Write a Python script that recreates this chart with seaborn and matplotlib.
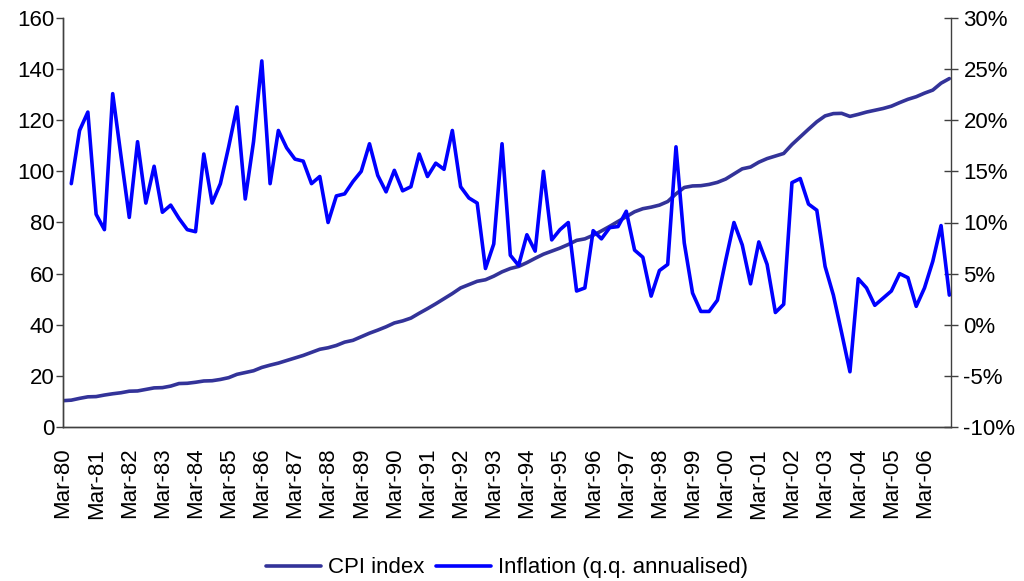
import pandas as pd
import matplotlib.pyplot as plt
import numpy as np
import seaborn as sns
from matplotlib.ticker import FuncFormatter

# Quarterly data, Mar-80 .. Dec-06
cpi_index = [10.3, 10.5, 11.2, 11.8, 11.9, 12.5, 13.0, 13.4, 14.0, 14.1,
             14.7, 15.3, 15.4, 16.0, 17.0, 17.1, 17.5, 18.0, 18.1, 18.6,
             19.3, 20.6, 21.3, 22.0, 23.3, 24.2, 25.0, 26.0, 27.0, 28.0,
             29.2, 30.4, 31.0, 31.9, 33.2, 33.9, 35.3, 36.7, 37.9, 39.2,
             40.7, 41.5, 42.6, 44.5, 46.3, 48.2, 50.2, 52.2, 54.4, 55.7,
             57.0, 57.6, 59.0, 60.7, 62.0, 62.8, 64.3, 66.0, 67.6, 68.8,
             70.0, 71.4, 73.0, 73.6, 75.0, 76.7, 78.5, 80.4, 82.3, 84.2,
             85.4, 86.0, 86.8, 88.2, 91.2, 93.7, 94.3, 94.4, 94.9, 95.7,
             97.0, 99.0, 101.0, 101.7, 103.6, 105.0, 106.0, 107.0, 110.5, 113.5,
             116.5, 119.4, 121.7, 122.6, 122.7, 121.5, 122.3, 123.2, 123.9, 124.6,
             125.5, 126.9, 128.2, 129.2, 130.6, 131.8, 134.5, 136.3]

# q.q. annualised inflation in %, starts Jun-80
inflation = [np.nan, 13.8, 19.0, 20.8, 10.8, 9.3, 22.6, 16.5, 10.5, 17.9,
             11.9, 15.5, 11.0, 11.7, 10.4, 9.3, 9.1, 16.7, 11.9, 13.8,
             17.4, 21.3, 12.3, 17.9, 25.8, 13.8, 19.0, 17.3, 16.2, 16.0,
             13.8, 14.5, 10.0, 12.6, 12.8, 14.0, 15.0, 17.7, 14.6, 13.0,
             15.1, 13.1, 13.5, 16.7, 14.5, 15.8, 15.2, 19.0, 13.5, 12.4,
             11.9, 5.5, 7.9, 17.7, 6.8, 5.8, 8.8, 7.2, 15.0, 8.3,
             9.3, 10.0, 3.3, 3.6, 9.2, 8.4, 9.5, 9.6, 11.1, 7.3,
             6.6, 2.8, 5.3, 5.9, 17.4, 8.0, 3.1, 1.3, 1.3, 2.4,
             6.3, 10.0, 7.8, 4.0, 8.1, 5.9, 1.2, 2.0, 13.9, 14.3,
             11.8, 11.2, 5.7, 2.9, -0.8, -4.6, 4.5, 3.6, 1.9, 2.6,
             3.3, 5.0, 4.6, 1.8, 3.6, 6.2, 9.7, 2.9]

months = ["Mar", "Jun", "Sep", "Dec"]
quarters = [f"{m}-{y % 100:02d}" for y in range(1980, 2007) for m in months]

df = pd.DataFrame({"q": np.arange(len(quarters)), "label": quarters,
                   "cpi": cpi_index, "infl": inflation})

sns.set_style("white")
plt.rcParams['font.family'] = ['Liberation Sans', 'DejaVu Sans']
plt.rcParams['font.size'] = 16
plt.rcParams['text.color'] = 'black'
plt.rcParams['xtick.labelcolor'] = 'black'
plt.rcParams['ytick.labelcolor'] = 'black'

fig = plt.figure(figsize=(10.24, 5.81), dpi=100)
ax = fig.add_axes([63 / 1024, 1 - 427 / 581, (951 - 63) / 1024, (427 - 18) / 581])
ax2 = ax.twinx()

sns.lineplot(data=df, x="q", y="cpi", ax=ax, color="#333399", lw=2.6, label="CPI index", legend=False)
sns.lineplot(data=df, x="q", y="infl", ax=ax2, color="#0000FF", lw=2.6,
             label="Inflation (q.q. annualised)", legend=False)

ax.set_xlim(0, 107.2)
ax.set_ylim(0, 160)
ax.set_yticks(range(0, 161, 20))
ax2.set_ylim(-10, 30)
ax2.set_yticks(range(-10, 31, 5))
ax2.yaxis.set_major_formatter(FuncFormatter(lambda v, p: f"{v:.0f}%"))

tick_pos = df["q"][::4]
ax.set_xticks(tick_pos)
ax.set_xticklabels(df["label"][::4], rotation=90)
ax.set_xlabel("")
ax.set_ylabel("")
ax2.set_ylabel("")

for a in (ax, ax2):
    for s in a.spines.values():
        s.set_color("#404040")
        s.set_linewidth(1.0)
    a.spines["top"].set_visible(False)
ax.spines["right"].set_visible(False)

ax.tick_params(axis="x", direction="out", length=5, width=1, color="#404040", labelsize=16, pad=10)
ax.tick_params(axis="y", direction="out", length=5, width=1, color="#404040", labelsize=16, pad=1)
ax2.tick_params(axis="y", direction="inout", length=10, width=1, color="#404040", labelsize=16, pad=4)

h1, l1 = ax.get_legend_handles_labels()
h2, l2 = ax2.get_legend_handles_labels()
fig.legend(h1 + h2, l1 + l2, loc="lower center", bbox_to_anchor=(0.495, -0.03), ncol=2,
           frameon=False, handlelength=2.5, handletextpad=0.3, columnspacing=0.5, fontsize=16)

fig.savefig("out.png", dpi=100)
